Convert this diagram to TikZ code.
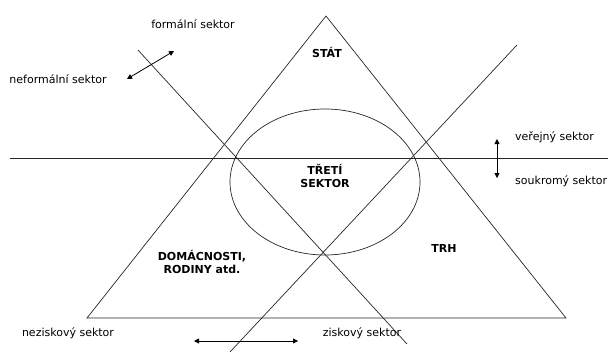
\documentclass[tikz,border=0pt]{standalone}
\usepackage{fontspec}
\setmainfont{DejaVu Sans}
\usepackage{tikz}
\usetikzlibrary{arrows.meta}

\begin{document}
\begin{tikzpicture}[
  x=1pt, y=-1pt,
  font=\fontsize{11}{13}\selectfont,
  >={Triangle[length=5pt,width=5pt]},
  % sector label (plain)
  sektor/.style={inner sep=0pt, align=center},
  % region label (bold)
  oblast/.style={inner sep=0pt, align=center,
                 font=\fontsize{11}{13}\selectfont\bfseries},
  % boundary lines
  hranice/.style={draw=black!85, line width=0.7pt},
  % double arrows
  dvoj/.style={<->, draw=black, line width=0.8pt},
]

%% ── Canvas ──────────────────────────────────────────────────────────────
\useasboundingbox (0,0) rectangle (608,354);

%% ── Triangle corners ────────────────────────────────────────────────────
\coordinate (vrchol) at (326,16);
\coordinate (levy)   at (87,318);
\coordinate (pravy)  at (566,318);

%% ── Dividing lines ──────────────────────────────────────────────────────
\coordinate (h1) at (10,158);   \coordinate (h2) at (608,158);
\coordinate (d1) at (138,50);   \coordinate (d2) at (407,344);
\coordinate (a1) at (230,352);  \coordinate (a2) at (517,45);

\draw[hranice] (vrchol) -- (levy) -- (pravy) -- cycle;
\draw[hranice] (h1) -- (h2);
\draw[hranice] (d1) -- (d2);
\draw[hranice] (a1) -- (a2);

%% ── Third sector ellipse ────────────────────────────────────────────────
\draw[hranice] (325,182) ellipse [x radius=95, y radius=73];

%% ── Region labels ───────────────────────────────────────────────────────
\node[oblast] (stat)  at (327,52)  {STÁT};
\node[oblast] (treti) at (325,176) {TŘETÍ\\SEKTOR};
\node[oblast] (domac) at (202,262) {DOMÁCNOSTI,\\RODINY atd.};
\node[oblast] (trh)   at (444,248) {TRH};

%% ── Sector labels ───────────────────────────────────────────────────────
\node[sektor] (formal)   at (193,24)  {formální sektor};
\node[sektor] (neformal) at (58,79)   {neformální sektor};
\node[sektor, anchor=west] (verejny)  at (515,137) {veřejný sektor};
\node[sektor, anchor=west] (soukromy) at (515,181) {soukromý sektor};
\node[sektor] (nezisk)   at (68,333)  {neziskový sektor};
\node[sektor] (zisk)     at (362,333) {ziskový sektor};

%% ── Double arrows ───────────────────────────────────────────────────────
\coordinate (s1) at (127,79);  \coordinate (s2) at (174,51);
\coordinate (v1) at (497,139); \coordinate (v2) at (497,178);
\coordinate (z1) at (194,341); \coordinate (z2) at (298,341);

\draw[dvoj] (s1) -- (s2);
\draw[dvoj] (v1) -- (v2);
\draw[dvoj] (z1) -- (z2);

\end{tikzpicture}
\end{document}
